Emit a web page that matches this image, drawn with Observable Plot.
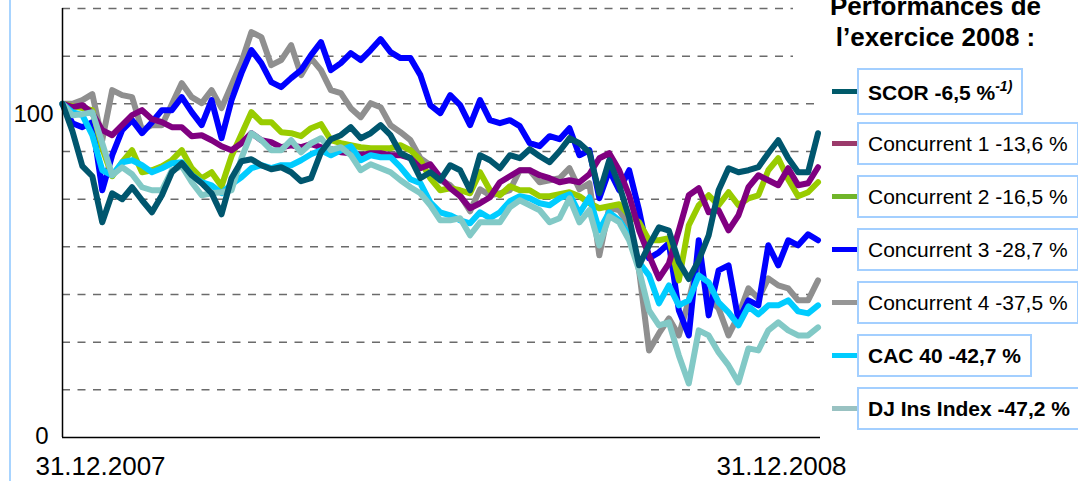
<!DOCTYPE html>
<html><head><meta charset="utf-8">
<script src="https://cdn.jsdelivr.net/npm/d3@7"></script>
<script src="https://cdn.jsdelivr.net/npm/@observablehq/plot@0.6"></script>
<style>
body{margin:0;background:#fff;font-family:Arial,"Liberation Sans",sans-serif;color:#000;}
#wrap{position:relative;width:1078px;height:481px;overflow:hidden;}
#bar{position:absolute;left:9px;top:0;width:2px;height:481px;background:#a8d4ff;}
#title{position:absolute;left:793px;top:-9px;width:285px;height:69px;background:#fff;text-align:center;font-weight:bold;font-size:26px;line-height:31px;}
#legend{position:absolute;left:832px;top:68px;display:flex;flex-direction:column;}
.item{display:flex;align-items:center;margin-bottom:10px;}
.item.first{margin-bottom:7px;}
.sw{width:25px;height:5px;flex:none;}
.box{border:2px solid #a3cfff;height:39px;line-height:39px;padding:0 9px;font-size:21px;white-space:nowrap;background:#fff;}
.item.first .box{height:43px;line-height:45px;}
.box sup{font-size:14px;font-style:italic;vertical-align:9px;line-height:0;}
</style></head>
<body>
<div id="wrap">
  <div id="bar"></div>
  <div id="chart"></div>
  <div id="title">Performances de<br>l’exercice 2008 :</div>
  <div id="legend"></div>
</div>
<script>
// Rebased performance indices (31.12.2007 = 100), sampled roughly every 4.8 days
const scor = [100,91.8,81.3,78.3,64.5,73.2,71.4,75,71.1,67.5,
  72.6,79.5,82.2,78.6,76.2,73.2,66.9,77.7,82.8,83.4,
  81.6,80.4,81,79.5,76.8,77.7,85.5,89.4,90.6,93,
  89.7,91.2,93.6,90.6,85.2,83.7,77.7,79.5,77.1,81.6,
  80.1,74.1,84.6,83.1,80.7,84.6,83.7,86.4,84.3,82.5,
  85.8,89.7,88.2,85.5,73.2,83.1,75.6,66,51.6,57.6,
  63,62,52.5,47.5,53.1,60.6,74.1,80.7,79.5,80.1,
  81,85.2,89.1,83.7,79.5,79.5,91.2];
const concurrent1 = [100,99,99.6,97.2,92.1,90.6,93.6,96.6,98.1,95.4,
  94.5,93,93,90.3,90.6,89.1,87.3,86.1,88.2,91.2,
  89.1,88.5,87,87.6,87,87.9,87,86.4,85.5,85.2,
  84.6,85.2,85.2,84.6,84.6,83.7,80.7,81.9,78,74.7,
  72.3,68.7,70.2,72,76.5,78.3,80.1,80.1,78.6,77.7,
  76.5,77.1,76.5,78.9,83.7,85.2,80.1,72.6,62.1,54.6,
  47.7,52.2,62.1,72.6,74.7,67.5,68.1,62.1,66.6,75,
  78.6,77.1,75.6,80.7,75.6,76.2,81];
const concurrent2 = [100,99.3,98.7,98.1,86.7,78.3,82.5,86.1,79.5,80.1,
  81.3,83.1,86.1,80.7,77.7,79.5,75.3,84.3,90.9,97.5,
  94.5,94.5,91.5,91.2,90.3,92.7,93.9,89.1,88.2,87.6,
  87,86.7,86.7,86.7,87.6,86.1,83.1,77.7,74.1,74.7,
  74.1,73.2,79.5,74.1,72.6,75.3,74.1,74.1,72.3,72.3,
  72.9,73.5,72.3,70.2,68.7,69.3,69.9,66.6,64.5,59.1,
  59.1,59.7,47.1,63.6,69.6,72.6,69.6,73.5,69.6,71.7,
  72.6,80.1,83.7,77.4,72.3,73.5,76.5];
const concurrent3 = [100,94.2,93,94.5,74.1,84.6,92.1,95.1,91.2,94.5,
  98.1,98.1,102,97.5,93.6,101.1,89.7,101.1,109.2,116.1,
  112.2,106.5,105,107.7,110.1,114.6,118.5,110.1,112.2,115.2,
  113.1,116.1,119.4,115.5,113.7,113.7,108.6,99.6,97.2,102.6,
  99.6,93.6,101.1,95.1,94.2,95.1,93.3,88.2,87.3,90.3,
  89.4,92.7,84.6,86.1,71.7,80.1,74.1,80.1,68.1,53.7,
  55.5,58.2,38.1,30.6,59.1,36.6,50.1,51.6,35.1,41.1,
  39.6,57.6,51.6,59.1,57.6,60.9,59.1];
const concurrent4 = [100,100,101.1,102.9,89.1,104.1,102.6,102,92.1,93.6,
  93.6,99.9,106.2,102,100.2,104.1,98.7,105.6,112.5,121.5,
  120,111.6,113.1,117.6,108.6,113.7,110.1,104.1,103.2,98.7,
  96,100.2,99,93.6,91.5,89.1,83.7,81.6,77.1,75.6,
  72.6,67.8,74.4,72.6,73.2,74.1,80.1,80.1,76.5,77.1,
  77.7,80.7,74.4,76.2,54.6,69,68.1,63.6,50.1,26.1,
  31.2,35.7,30.6,41.1,53.4,41.7,38.7,30.6,36.6,44.7,
  41.7,47.7,45.6,44.7,41.1,41.1,47.1];
const cac40 = [100,97.5,96.6,90.6,80.1,78.6,82.5,83.1,81.6,79.5,
  80.7,82.2,82.5,78.6,76.5,75.6,73.2,75.9,78,80.7,
  81.6,80.7,81.6,81.6,83.1,84.9,86.1,84.6,86.1,87.3,
  83.1,84.6,84,84,81,77.4,76.2,70.5,67.5,66.6,
  65.1,64.2,67.5,65.7,67.5,70.8,72.3,71.7,70.2,69.6,
  71.7,72.9,67.2,72,62.1,67.5,65.1,60.6,52.5,48.6,
  40.2,45.6,39.6,41.1,48.6,46.5,40.5,37.5,33.6,39.3,
  36.9,39.6,39.6,41.1,37.8,37.2,39.6];
const djIns = [100,96.6,96.9,97.5,88.2,78.6,81,78.9,75,74.1,
  74.1,80.1,81.3,76.5,72.6,73.2,73.5,74.1,83.7,91.2,
  89.1,86.1,86.1,89.1,85.5,88.2,89.7,86.1,87,84.6,
  80.1,81.9,80.7,79.5,77.1,75,73.2,69.6,65.1,65.1,
  65.7,60.6,64.5,64.5,64.5,69,71.1,69.6,68.1,64.5,
  65.7,71.7,64.5,68.1,57.6,66.3,64.5,59.1,50.1,38.1,
  33.6,34.5,24.6,16.2,32.1,30.6,25.5,21.6,16.5,26.7,
  26.1,32.1,34.5,32.1,30.6,30.6,33];

const seriesNames = ["SCOR","Concurrent 1","Concurrent 2","Concurrent 3","Concurrent 4","CAC 40","DJ Ins Index"];
const seriesPerf = ["-6,5 %","-13,6 %","-16,5 %","-28,7 %","-37,5 %","-42,7 %","-47,2 %"];
const seriesBold = [true,false,false,false,false,true,true];
const lineColors = ["#00566e","#800080","#99cc00","#0000ff","#8f8f8f","#00ccff","#82c9c6"];
const swatchColors = ["#005a6a","#9b3a6b","#70b52a","#0000ff","#969696","#00ccff","#99c2c2"];
const seriesValues = [scor, concurrent1, concurrent2, concurrent3, concurrent4, cac40, djIns];
const drawOrder = [4,3,2,1,5,6,0];

const startDate = new Date(Date.UTC(2007,11,31));
const endDate = new Date(Date.UTC(2008,11,31));
const stepDays = 4.8;
const gridValues = [100/7,200/7,300/7,400/7,500/7,600/7,100,800/7,900/7];
const yTickTop = [100];
const yTickBottom = [0];

const dates = scor.map((_, i) => new Date(startDate.getTime() + i*stepDays*864e5));
const fmt = d3.utcFormat("%d.%m.%Y");

const lineMarks = drawOrder.map(k => Plot.line(
  seriesValues[k].map((v,i)=>({date:dates[i], value:v})),
  {x:"date", y:"value", stroke:lineColors[k], strokeWidth:6, strokeLinejoin:"round", strokeLinecap:"round"}
));

const chart = Plot.plot({
  width:1078, height:481,
  marginLeft:62, marginRight:258, marginTop:8, marginBottom:44,
  x:{type:"utc", domain:[startDate, endDate], label:null},
  y:{domain:[0, 900/7], label:null},
  style:{fontFamily:'Arial, "Liberation Sans", sans-serif', background:"transparent", color:"#000", overflow:"visible"},
  marks:[
    Plot.ruleY(gridValues, {stroke:"#6b6b6b", strokeWidth:1.5, strokeDasharray:"8,7.5"}),
    ...lineMarks,
    Plot.ruleY([0], {stroke:"#000", strokeWidth:1.5}),
    Plot.ruleX([startDate], {stroke:"#000", strokeWidth:1.5}),
    Plot.axisY({ticks:yTickTop, tickSize:0, tickPadding:9, dy:10, fontSize:24, tickFormat:d=>String(d), fill:"#000", label:null}),
    Plot.axisY({ticks:yTickBottom, tickSize:0, tickPadding:14, dy:-1, fontSize:24, tickFormat:d=>String(d), fill:"#000", label:null}),
    Plot.axisX({ticks:[startDate], tickSize:0, tickPadding:19, dx:38, fontSize:26, tickFormat:fmt, fill:"#000", label:null}),
    Plot.axisX({ticks:[endDate], tickSize:0, tickPadding:19, dx:-39, fontSize:26, tickFormat:fmt, fill:"#000", label:null})
  ]
});
document.getElementById("chart").appendChild(chart);

const legend = document.getElementById("legend");
seriesNames.forEach((name, k) => {
  const item = document.createElement("div");
  item.className = "item" + (k === 0 ? " first" : "");
  const sw = document.createElement("div");
  sw.className = "sw";
  sw.style.background = swatchColors[k];
  const box = document.createElement("div");
  box.className = "box";
  box.style.fontWeight = seriesBold[k] ? "bold" : "normal";
  box.textContent = name + " " + seriesPerf[k];
  if (k === 0) {
    const sup = document.createElement("sup");
    sup.textContent = "-1)";
    box.appendChild(sup);
  }
  item.appendChild(sw);
  item.appendChild(box);
  legend.appendChild(item);
});
</script>
</body></html>
